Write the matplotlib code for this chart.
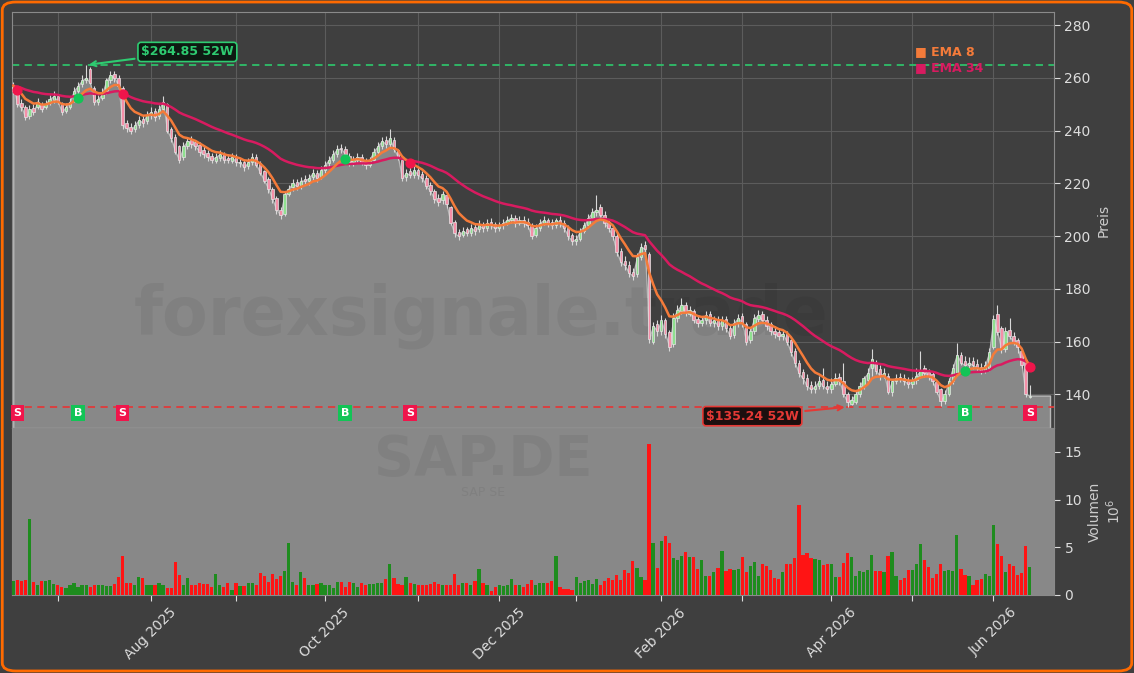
import matplotlib
matplotlib.use("Agg")
import matplotlib.pyplot as plt
import numpy as np
import pandas as pd
from matplotlib.patches import FancyBboxPatch
import matplotlib.transforms as mtrans

# ---------------- data ----------------
start_date = "2025-06-16"
end_date = "2026-06-12"
exchange_holidays = ["2025-12-24", "2025-12-25", "2025-12-26", "2025-12-31",
                     "2026-01-01", "2026-04-03", "2026-04-06", "2026-05-01"]

close = [
    257, 250, 249, 245, 248, 247, 251, 248, 250, 252, 253, 251,
    247, 249, 251, 255, 257, 259, 260, 258, 251, 252, 254, 259,
    261, 260, 257, 242, 241, 240, 242, 244, 243, 246, 247, 245,
    248, 251, 240, 237, 232, 229, 234, 236, 235, 234, 232, 231,
    230, 229, 230, 231, 229, 229, 230, 228, 228, 226, 228, 230,
    227, 224, 221, 218, 214, 210, 208, 216, 218, 220, 219, 221,
    221, 222, 224, 222, 225, 227, 229, 231, 233, 233, 231, 228,
    229, 230, 228, 227, 229, 232, 234, 236, 235, 237, 233, 230,
    222, 224, 223, 225, 223, 222, 219, 217, 214, 213, 216, 212,
    205, 201, 200, 202, 201, 203, 202, 204, 203, 205, 204, 203,
    204, 205, 206, 207, 205, 206, 205, 204, 200, 203, 205, 206,
    205, 204, 206, 205, 203, 200, 198, 199, 202, 204, 207, 209,
    210, 208, 205, 203, 200, 194, 190, 189, 186, 185, 192, 196,
    195, 161, 166, 164, 168, 163, 158, 169, 172, 174, 171, 172,
    168, 167, 168, 170, 167, 168, 166, 168, 165, 162, 167, 169,
    167, 160, 164, 169, 170, 168, 166, 164, 163, 162, 163, 160,
    156, 152, 148, 146, 143, 142, 143, 145, 143, 142, 144, 146,
    145, 140, 137, 138, 140, 143, 146, 148, 153.5, 149, 147, 148,
    141, 145, 146, 146, 145, 144, 145, 147, 149, 148, 147, 145,
    141, 137.5, 140, 145, 150, 155, 152, 151, 152, 151, 150, 149,
    151, 156, 168.5, 163.5, 157, 164, 162, 160, 158, 151, 140, 139.5,
]
open_ = [
    255, 254, 250.5, 249, 245.5, 248.5, 249, 250, 249, 250.5, 251.5, 253,
    250.5, 247.5, 249, 251.5, 255, 257.5, 259, 263.5, 256, 251, 252.5, 255,
    259, 261.5, 260, 256, 243, 241.5, 240.5, 242, 244.5, 243.5, 246, 247.5,
    245.5, 248, 250, 240.5, 237.5, 234, 230, 234, 236.5, 235.5, 234.5, 232.5,
    231.5, 230.5, 228.5, 229.5, 231, 229.5, 228.5, 230, 227.5, 228, 226.5, 228,
    230, 227.5, 224.5, 221.5, 218, 214.5, 210, 208.5, 216, 218.5, 220.5, 219,
    221.5, 221, 222.5, 224, 222.5, 225, 227.5, 229, 231, 233.5, 233, 230.5,
    228, 229, 230, 228.5, 227, 229, 232, 234, 236.5, 235, 236.5, 232.5,
    229, 222.5, 224.5, 223, 225, 223.5, 222, 219.5, 217, 214.5, 213.5, 215.5,
    211, 205.5, 201.5, 200.5, 202.5, 201, 203.5, 202.5, 204.5, 203, 205.5, 204.5,
    203, 204, 205, 206, 207, 205, 206, 205.5, 204, 200.5, 203, 205,
    206, 205.5, 204, 206, 205, 203, 200.5, 198, 199, 202, 204, 207,
    209, 211, 208, 205.5, 203, 200, 194.5, 190.5, 189, 186.5, 185.5, 192,
    196.5, 193, 160, 166.5, 164, 168, 163.5, 159, 169, 171.5, 174, 170.5,
    171.5, 168.5, 167, 168, 170.5, 167, 168, 166, 168.5, 165, 162.5, 167,
    169.5, 166.5, 160.5, 164, 168.5, 170.5, 168, 166.5, 164, 163.5, 162, 163,
    160.5, 156.5, 152, 148.5, 146, 143.5, 142, 143, 145.5, 143, 142, 144,
    146.5, 145, 140, 136.5, 137, 140, 143, 145.5, 150, 152, 149.5, 147,
    147, 141, 145, 146.5, 146, 145, 144, 145.5, 147, 150, 148.5, 147.5,
    144.5, 142, 137.5, 140, 145, 148, 155, 152.5, 151, 152.5, 151.5, 150.5,
    149, 150, 158, 170.5, 165, 157, 164.5, 162, 160.5, 156.5, 153, 139,
]
high = [
    258.5, 255, 252, 249.5, 249.5, 250, 252.5, 251, 251.5, 253.5, 255, 254,
    251, 250.5, 252.5, 256.5, 258.5, 261, 264.85, 264, 257, 253.5, 256, 260,
    262.5, 262.5, 261, 257, 244, 243, 243.5, 245.5, 246, 247.5, 249, 248.5,
    249.5, 253, 250.5, 241.5, 238.5, 234.5, 235.5, 237.5, 238, 236.5, 235.5, 234,
    232.5, 231.5, 231.5, 232.5, 232, 231, 231.5, 231, 229.5, 229, 229.5, 231.5,
    231, 228.5, 225, 222.5, 218.5, 215, 211, 217, 219.5, 221.5, 221.5, 222.5,
    223, 223.5, 225.5, 225, 226.5, 228.5, 230.5, 232.5, 234.5, 235, 234, 231.5,
    230.5, 231.5, 231, 229.5, 230, 233.5, 235.5, 237.5, 238, 240.6, 237.5, 233,
    229.5, 225.5, 226, 226.5, 226, 224.5, 223, 220.5, 218, 216, 217, 216,
    211.5, 206, 202.5, 203.5, 203.5, 204.5, 205, 206, 205.5, 206.5, 207, 205.5,
    205.5, 206.5, 207.5, 208.5, 208, 207.5, 207.5, 207, 205, 204.5, 206.5, 207.5,
    207, 206.5, 207, 207.5, 206, 204, 201, 200.5, 203, 205.5, 208.5, 210.5,
    215.5, 212, 209.5, 206.5, 204, 201, 195.5, 192.5, 190.5, 188, 193.5, 197.5,
    198, 194, 167.5, 168, 170, 169, 164.5, 171, 174, 176.5, 175, 173.5,
    172.5, 170, 169.5, 171.5, 171.5, 169.5, 169.5, 169.5, 169.5, 166.5, 168.5, 170.5,
    171, 167.5, 165, 170.5, 172, 171.5, 169.5, 167.5, 166, 165, 164.5, 164,
    161, 157.5, 153, 149.5, 147.5, 145, 145, 147, 150, 145, 146, 148,
    148, 152, 141, 139.5, 141.5, 144.5, 147, 150, 157, 153, 151, 150,
    148, 145.5, 147.5, 148, 147.5, 146.5, 146.5, 150, 156.5, 151, 149.5, 148.5,
    145, 142.5, 141.5, 146, 151.5, 159.5, 156, 154.5, 154, 154, 153.5, 152,
    152.5, 157.5, 170, 173.8, 166, 165.5, 169, 163.5, 161.5, 157, 153.5, 143.5,
]
low = [
    254, 249, 247.5, 244, 244.5, 246, 248, 247, 248, 249.5, 250.5, 250,
    246, 246.5, 248, 251, 254, 256.5, 258, 257.5, 249.5, 249.5, 251.5, 254,
    258, 258.5, 256, 240.5, 239.5, 238.5, 239.5, 241, 241.5, 242.5, 244.5, 243.5,
    244.5, 247, 239, 235.5, 231, 227.5, 229, 233, 233.5, 232.5, 230.5, 229.5,
    228.5, 227.5, 227.5, 228.5, 227.5, 227.5, 227.5, 226.5, 226, 224.5, 225.5, 227,
    226, 223, 220, 216.5, 212.5, 208.5, 206.5, 207.5, 215, 217, 217.5, 218,
    219.5, 219.5, 221, 220.5, 221.5, 224, 226, 228, 230, 231.5, 229.5, 226.5,
    226.5, 227.5, 227, 225.5, 226, 228, 231, 233, 233.5, 233.5, 232, 229,
    221, 221, 222, 222, 221.5, 220.5, 218, 215.5, 212.5, 211.5, 212, 210.5,
    204, 199.5, 198.5, 199.5, 200, 200, 200.5, 201.5, 201.5, 202, 202.5, 201.5,
    202, 202.5, 204, 205, 203.5, 204, 203.5, 202.5, 198.8, 199.5, 202, 204,
    203.5, 202.5, 203, 203.5, 201.5, 198.5, 196.5, 196.5, 198, 201, 203, 206,
    207.5, 206.5, 203.5, 201.5, 198.5, 192.5, 188.5, 187, 184.5, 183.5, 184.5, 191,
    193.5, 159.5, 159, 162, 162.5, 161.5, 156.5, 158, 167.5, 170.5, 169.5, 169.5,
    167, 165.5, 166, 166.5, 166, 165.5, 164.5, 164.5, 163.5, 161, 161.5, 165.5,
    165.5, 158.5, 159.5, 163, 167.5, 167, 164.5, 162.5, 161.5, 160.5, 160.5, 158.5,
    154.5, 150.5, 146.5, 144, 141.5, 140.5, 140.5, 142, 142, 140.5, 140.5, 143,
    143.5, 139, 135.24, 135.8, 136.5, 139, 142, 144.5, 147, 147.5, 145.5, 146,
    140, 139.5, 144, 144.5, 143.5, 142.5, 142.5, 144, 146, 146.5, 145.5, 143.5,
    140, 135.5, 136.5, 139.5, 144, 147, 151, 149.5, 149.5, 149.5, 148.5, 147.5,
    148, 149, 157, 162.5, 155.5, 156, 161, 158.5, 155.5, 150, 139, 138.5,
]
volume_mio = [
    1.5, 1.6, 1.5, 1.6, 8.0, 1.4, 1.1, 1.5, 1.5, 1.6, 1.2, 1.1,
    0.8, 0.7, 1.1, 1.3, 0.8, 1.0, 1.0, 0.8, 1.0, 1.0, 1.0, 0.9,
    0.9, 1.2, 1.9, 4.1, 1.3, 1.3, 1.0, 1.9, 1.8, 1.0, 1.0, 1.0,
    1.3, 1.1, 0.7, 0.7, 3.5, 2.1, 1.0, 1.8, 1.1, 1.1, 1.3, 1.2,
    1.2, 0.8, 2.2, 1.0, 0.8, 1.3, 0.5, 1.3, 0.9, 0.9, 1.3, 1.3,
    1.1, 2.3, 2.0, 1.4, 2.2, 1.7, 2.0, 2.5, 5.4, 1.4, 1.0, 2.4,
    1.8, 1.1, 1.0, 1.2, 1.3, 1.1, 1.0, 0.7, 1.4, 1.4, 0.8, 1.4,
    1.3, 0.8, 1.3, 1.1, 1.2, 1.2, 1.3, 1.3, 1.7, 3.2, 1.8, 1.2,
    1.0, 1.9, 1.3, 1.2, 1.0, 1.0, 1.0, 1.2, 1.4, 1.2, 1.0, 1.1,
    1.0, 2.2, 1.1, 1.3, 1.3, 1.0, 1.5, 2.7, 1.3, 1.1, 0.4, 0.8,
    1.0, 0.9, 1.0, 1.7, 1.0, 1.0, 0.8, 1.2, 1.6, 1.1, 1.3, 1.3,
    1.3, 1.5, 4.1, 0.8, 0.6, 0.6, 0.5, 1.9, 1.3, 1.5, 1.6, 1.2,
    1.7, 1.0, 1.5, 1.8, 1.6, 2.1, 1.6, 2.6, 2.3, 3.6, 2.8, 1.9,
    1.6, 15.8, 5.5, 2.8, 5.7, 6.2, 5.5, 3.9, 3.7, 4.1, 4.5, 4.0,
    4.0, 2.7, 3.7, 2.0, 2.0, 2.4, 2.8, 4.6, 2.5, 2.7, 2.6, 2.7,
    4.0, 2.4, 3.0, 3.5, 2.0, 3.3, 3.0, 2.6, 1.8, 1.7, 2.4, 3.3,
    3.3, 3.9, 9.4, 4.2, 4.4, 3.9, 3.8, 3.7, 3.1, 3.3, 3.2, 1.9,
    1.9, 3.4, 4.4, 4.0, 2.0, 2.5, 2.4, 2.6, 4.2, 2.5, 2.5, 2.4,
    4.1, 4.5, 2.0, 1.6, 1.8, 2.6, 2.6, 3.2, 5.3, 3.7, 2.9, 1.8,
    2.2, 3.2, 2.5, 2.6, 2.5, 6.3, 2.7, 2.1, 2.0, 1.1, 1.6, 1.7,
    2.2, 2.0, 7.3, 5.3, 4.1, 2.4, 3.3, 3.0, 2.1, 2.3, 5.1, 2.9,
]
signal_idx = [1, 16, 27, 82, 98, 235, 251]
signal_type = ["S", "B", "S", "B", "S", "B", "S"]
high_52w = 264.85
high_52w_idx = 18
low_52w = 135.24
low_52w_idx = 206
month_tick_labels = ["", "Aug 2025", "", "Oct 2025", "", "Dec 2025", "",
                     "Feb 2026", "", "Apr 2026", "", "Jun 2026"]
ticker = "SAP.DE"
company = "SAP SE"
watermark = "forexsignale.trade"

# ---------------- prep ----------------
dates = pd.bdate_range(start_date, end_date)
dates = dates[~dates.isin(pd.to_datetime(exchange_holidays))]
c = np.array(close, float)
o = np.array(open_, float)
h = np.array(high, float)
l = np.array(low, float)
v = np.array(volume_mio, float)
n = len(c)
x = np.arange(n)
ema8 = pd.Series(c).ewm(span=8, adjust=False).mean().values
ema34 = pd.Series(c).ewm(span=34, adjust=False).mean().values
month_start = np.r_[True, dates.month[1:] != dates.month[:-1]]
tick_pos = np.where(month_start)[0][1:]

BG = "#3f3f3f"
GRAY = "#888888"
ORANGE = "#f47b3a"
CRIMSON = "#d81b60"
GREEN_SIG = "#12c456"
RED_SIG = "#f0154b"

fig = plt.figure(figsize=(11.34, 6.73), dpi=100, facecolor=BG)
ax = fig.add_axes([0.0106, 0.364, 0.9189, 0.618])
axv = fig.add_axes([0.0106, 0.1159, 0.9189, 0.2481], sharex=ax)

ymin, ymax = 127.2, 284.9
ax.set_facecolor(BG)
ax.set_ylim(ymin, ymax)
ax.set_xlim(-0.3, n + 5)
ax.grid(True, color="#5c5c5c", lw=0.8, zorder=0)
ax.set_axisbelow(True)

# area under close
xf = np.r_[x, n + 4]
cf = np.r_[c, c[-1]]
ax.fill_between(xf, cf, ymin, color=GRAY, edgecolor="#b8b8b8", lw=1.0, zorder=1)

# watermark
ax.text(0.45, 0.27, watermark, transform=ax.transAxes, fontsize=48,
        fontweight="bold", color="black", alpha=0.06, ha="center",
        va="center", zorder=2)

# candles
ax.vlines(x, l, h, color="#d8d8d8", lw=0.8, zorder=3)
up = c >= o
body_bot = np.minimum(o, c)
body_h = np.maximum(np.abs(c - o), 0.3)
ax.bar(x[up], body_h[up], bottom=body_bot[up], width=0.6,
       color="#8fe08f", edgecolor="#e6e6e6", lw=0.5, zorder=4)
ax.bar(x[~up], body_h[~up], bottom=body_bot[~up], width=0.6,
       color="#f58fa8", edgecolor="#e6e6e6", lw=0.5, zorder=4)

# EMAs
ax.plot(x, ema34, color=CRIMSON, lw=1.8, zorder=5)
ax.plot(x, ema8, color=ORANGE, lw=1.8, zorder=6)

# 52W lines
ax.axhline(high_52w, color="#2fbf6a", lw=1.3, ls=(0, (4, 3)), zorder=2)
ax.axhline(low_52w, color="#e03a3a", lw=1.3, ls=(0, (4, 3)), zorder=2)
ax.annotate(f"${high_52w:.2f} 52W", xy=(high_52w_idx, high_52w),
            xytext=(43, 269.8), ha="center", va="center", fontsize=9,
            fontweight="bold", color="#2ecc71", zorder=8,
            bbox=dict(boxstyle="round,pad=0.25", fc="#0e1a12", ec="#2ecc71", lw=1.2),
            arrowprops=dict(arrowstyle="->", color="#2ecc71", lw=1.5))
ax.annotate(f"${low_52w:.2f} 52W", xy=(low_52w_idx, low_52w),
            xytext=(182.5, 131.7), ha="center", va="center", fontsize=9,
            fontweight="bold", color="#e53935", zorder=8,
            bbox=dict(boxstyle="round,pad=0.25", fc="#1c0f0f", ec="#e53935", lw=1.2),
            arrowprops=dict(arrowstyle="->", color="#e53935", lw=1.5))

# signals
trans = mtrans.blended_transform_factory(ax.transData, ax.transAxes)
for i, t in zip(signal_idx, signal_type):
    col = GREEN_SIG if t == "B" else RED_SIG
    ax.scatter([i], [ema8[i]], s=40, color=col, zorder=7)
    ax.text(i, 0.036, t, transform=trans, ha="center", va="center",
            fontsize=8, fontweight="bold", color="white", zorder=8,
            bbox=dict(boxstyle="square,pad=0.25", fc=col, ec="none"))

# legend texts
ax.text(0.867, 0.905, "■ EMA 8", transform=ax.transAxes, color=ORANGE,
        fontsize=9, fontweight="bold", va="center", zorder=8)
ax.text(0.867, 0.866, "■ EMA 34", transform=ax.transAxes, color=CRIMSON,
        fontsize=9, fontweight="bold", va="center", zorder=8)

ax.yaxis.tick_right()
ax.yaxis.set_label_position("right")
ax.set_yticks(np.arange(140, 281, 20))
ax.tick_params(axis="y", colors="#dddddd", labelsize=10, length=4)
ax.tick_params(axis="x", bottom=False, labelbottom=False)
ax.set_ylabel("Preis", color="#cccccc", fontsize=10)
for s in ax.spines.values():
    s.set_color("#8a8a8a")

# volume
axv.set_facecolor(GRAY)
vcol = np.where(up, "#1e8c1e", "#ff1414")
axv.bar(x, v, width=0.8, color=vcol, zorder=3)
axv.set_ylim(0, 17.5)
axv.yaxis.tick_right()
axv.yaxis.set_label_position("right")
axv.set_yticks([0, 5, 10, 15])
axv.tick_params(axis="y", colors="#dddddd", labelsize=10, length=4)
axv.set_ylabel("Volumen\n$10^6$", color="#cccccc", fontsize=10)
axv.set_xticks(tick_pos)
axv.set_xticklabels(month_tick_labels, rotation=45, ha="center")
axv.tick_params(axis="x", colors="#dddddd", labelsize=10, length=4)
for s in axv.spines.values():
    s.set_color("#8a8a8a")
ax.set_xticks(tick_pos)

fig.text(0.426, 0.316, ticker, fontsize=40, fontweight="bold", color="black",
         alpha=0.06, ha="center", va="center")
fig.text(0.426, 0.268, company, fontsize=9, color="black", alpha=0.06,
         ha="center", va="center")

fig.patches.append(FancyBboxPatch((0.002, 0.003), 0.996, 0.994,
                                  boxstyle="round,pad=0,rounding_size=0.012",
                                  transform=fig.transFigure, fill=False,
                                  ec="#ff6a00", lw=2.0))

fig.savefig("out.png", dpi=100, facecolor=BG)
